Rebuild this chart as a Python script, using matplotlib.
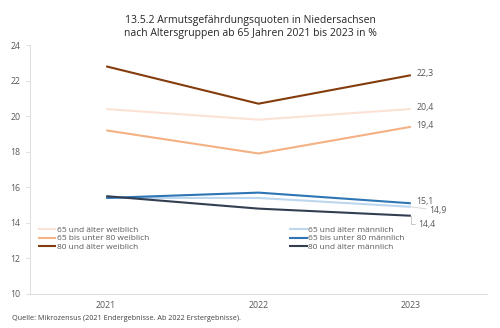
import matplotlib.pyplot as plt

plt.rcParams['font.family'] = ['Open Sans', 'DejaVu Sans']

years = ['2021', '2022', '2023']
series_names = [
    '65 und älter weiblich',
    '65 bis unter 80 weiblich',
    '80 und älter weiblich',
    '65 und älter männlich',
    '65 bis unter 80 männlich',
    '80 und älter männlich',
]
w_65_plus = [20.4, 19.8, 20.4]
w_65_80 = [19.2, 17.9, 19.4]
w_80_plus = [22.8, 20.7, 22.3]
m_65_plus = [15.4, 15.4, 14.9]
m_65_80 = [15.4, 15.7, 15.1]
m_80_plus = [15.5, 14.8, 14.4]
values = [w_65_plus, w_65_80, w_80_plus, m_65_plus, m_65_80, m_80_plus]
colors = ['#fbe2d5', '#f4b183', '#843c0c', '#bdd7ee', '#2e75b6', '#333f50']

fig = plt.figure(figsize=(5, 3.28), dpi=100)
ax = fig.add_axes([0.06, 0.1037, 0.914, 0.7591])

x = list(range(len(years)))
lines = []
for name, vals, col in zip(series_names, values, colors):
    ln, = ax.plot(x, vals, color=col, lw=1.5, label=name, solid_capstyle='butt')
    lines.append(ln)

def fmt(v):
    return f'{v:.1f}'.replace('.', ',')

lab_col = '#595959'
# direct labels at the last year
for vals in [w_80_plus, w_65_plus, w_65_80, m_65_80]:
    ax.annotate(fmt(vals[-1]), (2, vals[-1]), xytext=(4, 1), textcoords='offset points',
                fontsize=6.3, color=lab_col, va='center', ha='left')
ax.annotate(fmt(m_65_plus[-1]), (2, m_65_plus[-1]), xytext=(13, -2.5), textcoords='offset points',
            fontsize=6.3, color=lab_col, va='center', ha='left',
            arrowprops=dict(arrowstyle='-', color='#d0d0d0', lw=0.6, shrinkA=0, shrinkB=0))
ax.annotate(fmt(m_80_plus[-1]), (2, m_80_plus[-1]), xytext=(5, -6), textcoords='offset points',
            fontsize=6.3, color=lab_col, va='center', ha='left',
            arrowprops=dict(arrowstyle='-', color='#bfbfbf', lw=0.6, shrinkA=0, shrinkB=0,
                            connectionstyle='angle,angleA=0,angleB=90,rad=0'))

ax.set_xlim(-0.5, 2.5)
ax.set_ylim(10, 24)
ax.set_yticks(range(10, 25, 2))
ax.set_xticks(x)
ax.set_xticklabels(years)
ax.tick_params(axis='y', length=3, width=0.6, color='#d9d9d9', labelsize=6.3, labelcolor=lab_col, pad=4)
ax.tick_params(axis='x', length=0, labelsize=6.3, labelcolor=lab_col, pad=5)
for s in ['top', 'right']:
    ax.spines[s].set_visible(False)
for s in ['left', 'bottom']:
    ax.spines[s].set_color('#d9d9d9')
    ax.spines[s].set_linewidth(0.6)

ax.legend(lines, series_names, ncol=2, loc='upper left', bbox_to_anchor=(0.01, 0.285),
          frameon=False, fontsize=6, handlelength=2.2, handletextpad=0.1,
          labelspacing=0.05, columnspacing=16.8, borderaxespad=0, labelcolor=lab_col)

fig.text(0.5, 0.955, '13.5.2 Armutsgefährdungsquoten in Niedersachsen\nnach Altersgruppen ab 65 Jahren 2021 bis 2023 in %',
         ha='center', va='top', fontsize=7.5, color='#262626', linespacing=1.3)
fig.text(0.024, 0.03, 'Quelle: Mikrozensus (2021 Endergebnisse. Ab 2022 Erstergebnisse).',
         ha='left', va='center', fontsize=5.2, color='#404040')

fig.savefig('out.png', dpi=100)
